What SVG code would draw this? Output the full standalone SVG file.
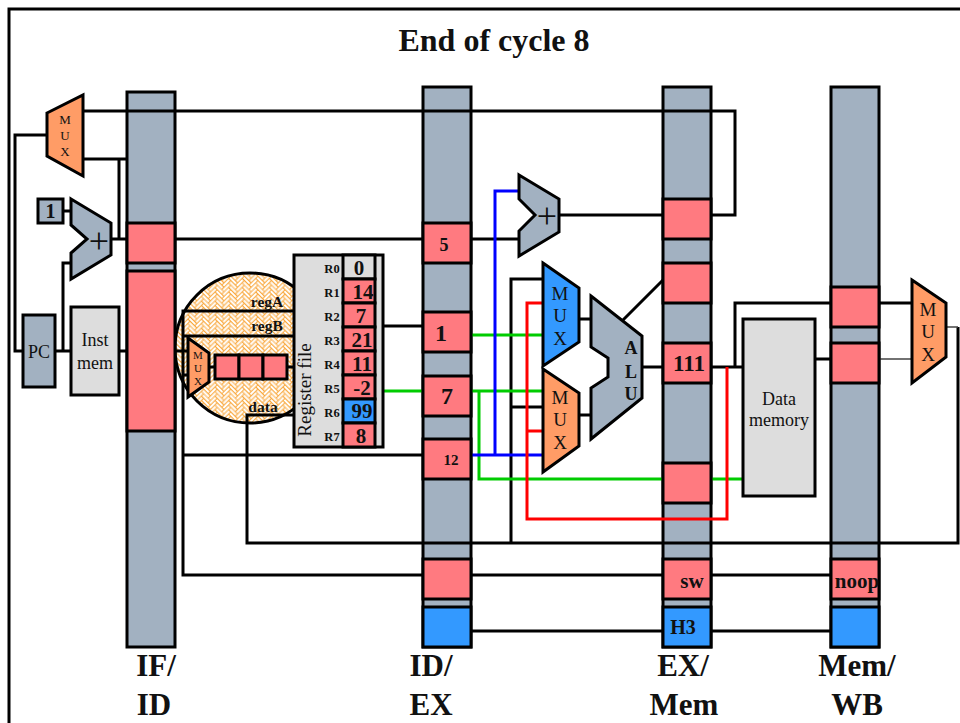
<svg xmlns="http://www.w3.org/2000/svg" width="960" height="723" viewBox="0 0 960 723">
<style>
text{font-family:"Liberation Serif","Times New Roman",serif;fill:#111;text-anchor:middle}
.b{font-weight:bold}
.w{fill:none;stroke:#000;stroke-width:3}
.t{fill:none;stroke:#444;stroke-width:1.5}
.g{fill:none;stroke:#00cc00;stroke-width:3}
.r{fill:none;stroke:#ff0000;stroke-width:3}
.u{fill:none;stroke:#0000ff;stroke-width:3}
.s{fill:#a2b1c1;stroke:#000;stroke-width:3}
.p{fill:#ff7a80;stroke:#000;stroke-width:3}
.c{fill:#3399ff;stroke:#000;stroke-width:3}
.o{fill:#ff9c66;stroke:#000;stroke-width:3}
.m{fill:#dddddd;stroke:#000;stroke-width:3}
.l{font-size:31px;font-weight:bold}
.v{font-size:21px;font-weight:bold}
.n{font-size:12.500px;font-weight:bold}
</style>
<defs>
<pattern id="weave" width="6" height="6" patternUnits="userSpaceOnUse" patternTransform="rotate(45) scale(3.200)">
<rect width="6" height="6" fill="#fff"/>
<path d="M0 0H3M5 0H6M0 1H4M1 2H5M2 3H6M3 4H6M0 4H1M4 5H6M0 5H2M0 6H3M5 6H6M0 0V4M1 1V5M2 2V6M3 3V6M3 0V1M4 4V6M4 0V2M5 5V6M5 0V3M6 0V4" fill="none" stroke="#f9a83e" stroke-width="0.330"/>
</pattern>
</defs>
<rect width="960" height="723" fill="#fff"/>
<path id="frame" d="M9 723V9H960" fill="none" stroke="#000" stroke-width="3"/>
<text id="title" class="b" x="494" y="51" font-size="32">End of cycle 8</text>
<g id="pipe-bars">
<rect id="bar-if-id" class="s" x="127" y="92" width="48" height="555"/>
<rect id="bar-id-ex" class="s" x="423" y="87" width="48" height="560"/>
<rect id="bar-ex-mem" class="s" x="663" y="87" width="48" height="560"/>
<rect id="bar-mem-wb" class="s" x="831" y="87" width="48" height="560"/>
</g>
<g id="register-circle"><circle cx="250" cy="348" r="75" fill="url(#weave)" stroke="#000" stroke-width="3"/></g>
<g id="connectors">
<path class="w" d="M47 135H15V351H23M55 351H71M63 351V263H71M63 211H71M119 351H127M111 239H127M119 239V159M83 159H127M83 111H735V215H711M175 239H423M471 239H519M559 215H663"/>
<path class="w" d="M294 311H183V575H423M294 336H183M183 455H423M175 351H188M183 375H188M209 367H215M287 367H294M383 326H423"/>
<path class="w" d="M294 415H247V543H958V327"/>
<path class="t" d="M947 327H958M879 359H911"/>
<path class="w" d="M879 303H911M815 359H831M711 367H743M735 367V303H831"/>
<path class="w" d="M543 279H511V543M511 407H543M579 319H591M579 415H591M642 367H663M623 320L663 280"/>
<path class="w" d="M471 575H663M711 575H831M471 631H663M711 631H831"/>
<path class="g" d="M383 391H423M471 335H543M471 391H543M479 391V479H663M711 479H743"/>
<path class="u" d="M471 455H543M495 455V191H519"/>
<path class="r" d="M727 367V519H527V303H543M527 431H543"/>
</g>
<g id="mux-pc"><polygon class="o" points="47,113 83,95 83,176 47,156"/><text x="65" y="124" font-size="13">M</text><text x="65" y="140" font-size="13">U</text><text x="65" y="156" font-size="13">X</text></g>
<g id="const-1"><rect class="s" x="38" y="199" width="25" height="24"/><text class="b" x="50.500" y="218" font-size="20">1</text></g>
<g id="adder-pc"><polygon class="s" points="71,199 111,223 111,255 71,279 71,253 87,239 71,225"/><text x="99" y="253" font-size="36">+</text></g>
<g id="pc"><rect class="s" x="23" y="315" width="32" height="72"/><text x="39" y="358" font-size="18">PC</text></g>
<g id="inst-mem"><rect class="m" x="71" y="307" width="48" height="88"/><text x="95" y="346" font-size="18">Inst</text><text x="95" y="369" font-size="18">mem</text></g>
<g id="if-id-cells"><rect class="p" x="127" y="223" width="48" height="40"/><rect class="p" x="127" y="271" width="48" height="160"/></g>
<g id="register-mux"><polygon class="o" points="188,338 209,353 209,382 188,397"/><text x="198" y="359" font-size="11">M</text><text x="198" y="372" font-size="11">U</text><text x="198" y="385" font-size="11">X</text></g>
<g id="write-buffer"><rect class="p" x="215" y="355" width="24" height="24"/><rect class="p" x="239" y="355" width="24" height="24"/><rect class="p" x="263" y="355" width="24" height="24"/></g>
<g id="register-labels"><text class="b" x="267" y="307" font-size="15.500">regA</text><text class="b" x="267" y="331" font-size="15.500">regB</text><text class="b" x="263" y="412" font-size="15.500">data</text></g>
<g id="register-file">
<rect class="m" x="294" y="255" width="89" height="192"/>
<text x="311" y="390" font-size="19" transform="rotate(-90 311 390)">Register file</text>
<rect class="m" x="343" y="255" width="32" height="24"/>
<rect class="p" x="343" y="279" width="32" height="24"/>
<rect class="p" x="343" y="303" width="32" height="24"/>
<rect class="p" x="343" y="327" width="32" height="24"/>
<rect class="p" x="343" y="351" width="32" height="24"/>
<rect class="p" x="343" y="375" width="32" height="24"/>
<rect class="c" x="343" y="399" width="32" height="24"/>
<rect class="p" x="343" y="423" width="32" height="24"/>
<text class="n" x="332" y="273">R0</text><text class="n" x="332" y="297">R1</text><text class="n" x="332" y="321">R2</text><text class="n" x="332" y="345">R3</text><text class="n" x="332" y="369">R4</text><text class="n" x="332" y="393">R5</text><text class="n" x="332" y="417">R6</text><text class="n" x="332" y="441">R7</text>
<text class="v" x="359" y="275">0</text><text class="v" x="363" y="299">14</text><text class="v" x="361" y="323">7</text><text class="v" x="362" y="347">21</text><text class="v" x="362" y="371">11</text><text class="v" x="362" y="395">-2</text><text class="v" x="362" y="418">99</text><text class="v" x="361" y="443">8</text>
</g>
<g id="id-ex-cells">
<rect class="p" x="423" y="223" width="48" height="40"/><text class="b" x="444" y="251" font-size="18">5</text>
<rect class="p" x="423" y="312" width="48" height="40"/><text class="b" x="441" y="341" font-size="24">1</text>
<rect class="p" x="423" y="376" width="48" height="40"/><text class="b" x="447" y="404" font-size="24">7</text>
<rect class="p" x="423" y="439" width="48" height="40"/><text class="b" x="451" y="465" font-size="15">12</text>
<rect class="p" x="423" y="559" width="48" height="40"/>
<rect class="c" x="423" y="607" width="48" height="40"/>
</g>
<g id="adder-branch"><polygon class="s" points="519,175 559,199 559,232 519,256 519,231 535,215 519,199"/><text x="547" y="228" font-size="36">+</text></g>
<g id="mux-a"><polygon class="c" points="543,263 579,288 579,342 543,366"/><text x="560" y="300" font-size="19">M</text><text x="560" y="322" font-size="19">U</text><text x="560" y="345" font-size="19">X</text></g>
<g id="mux-b"><polygon class="o" points="543,369 579,393 579,446 543,472"/><text x="560" y="404" font-size="19">M</text><text x="560" y="426" font-size="19">U</text><text x="560" y="449" font-size="19">X</text></g>
<g id="alu"><polygon class="s" points="591,296 642,336 642,398 591,439 591,388 608,377 608,358 591,347"/><text class="b" x="631" y="354" font-size="18">A</text><text class="b" x="631" y="378" font-size="18">L</text><text class="b" x="631" y="400" font-size="18">U</text></g>
<g id="ex-mem-cells">
<rect class="p" x="663" y="199" width="48" height="40"/>
<rect class="p" x="663" y="263" width="48" height="40"/>
<rect class="p" x="663" y="343" width="48" height="40"/><text class="b" x="689" y="371" font-size="23">111</text>
<rect class="p" x="663" y="463" width="48" height="40"/>
<rect class="p" x="663" y="559" width="48" height="40"/><text class="b" x="692" y="588" font-size="21">sw</text>
<rect class="c" x="663" y="607" width="48" height="40"/><text class="b" x="683" y="634" font-size="20">H3</text>
</g>
<g id="data-memory"><rect class="m" x="743" y="319" width="72" height="177"/><text x="779" y="405" font-size="18">Data</text><text x="779" y="426" font-size="18">memory</text></g>
<g id="mem-wb-cells">
<rect class="p" x="831" y="287" width="48" height="40"/>
<rect class="p" x="831" y="343" width="48" height="40"/>
<rect class="p" x="831" y="559" width="48" height="40"/><text class="b" x="857" y="588" font-size="21">noop</text>
<rect class="c" x="831" y="607" width="48" height="40"/>
</g>
<g id="mux-wb"><polygon class="o" points="912,280 946,303 946,357 912,383"/><text x="928" y="316" font-size="19">M</text><text x="928" y="338" font-size="19">U</text><text x="928" y="361" font-size="19">X</text></g>
<g id="stage-labels">
<text class="l" x="156" y="676">IF/</text><text class="l" x="154" y="715">ID</text>
<text class="l" x="431" y="676">ID/</text><text class="l" x="431" y="715">EX</text>
<text class="l" x="683" y="676">EX/</text><text class="l" x="684" y="715">Mem</text>
<text class="l" x="857" y="676">Mem/</text><text class="l" x="857" y="715">WB</text>
</g>
</svg>
